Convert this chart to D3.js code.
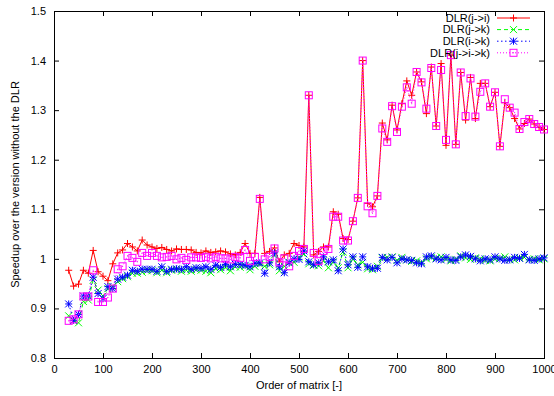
<!DOCTYPE html>
<html>
<head>
<meta charset="utf-8">
<script src="https://cdn.jsdelivr.net/npm/d3@7"></script>
<style>
  html, body { margin: 0; padding: 0; background: #fff; }
  svg { display: block; font-family: "Liberation Sans", Arial, sans-serif; }
</style>
</head>
<body>
<svg id="chart" width="554" height="396"></svg>
<script>
// ---------------- DATA ----------------
const matrixOrder = [30,40,50,60,70,80,90,100,110,120,130,140,150,160,170,180,190,200,210,220,
  230,240,250,260,270,280,290,300,310,320,330,340,350,360,370,380,390,400,410,420,
  430,440,450,460,470,480,490,500,510,520,530,540,550,560,570,580,590,600,610,620,
  630,640,650,660,670,680,690,700,710,720,730,740,750,760,770,780,790,800,810,820,
  830,840,850,860,870,880,890,900,910,920,930,940,950,960,970,980,990,1000];

const dlrJI = [0.977,0.945,0.949,0.977,0.971,1.017,0.974,0.965,0.956,0.990,
  1.012,1.018,1.031,1.024,1.016,1.038,1.028,1.024,1.021,1.023,
  1.019,1.016,1.020,1.019,1.019,1.018,1.013,1.012,1.016,1.013,
  1.014,1.016,1.014,1.010,1.008,1.013,1.031,1.011,1.011,1.124,
  1.011,1.015,1.022,0.994,1.008,1.011,1.031,1.027,1.024,1.330,
  1.008,1.015,1.024,1.024,1.095,1.090,1.041,1.039,1.076,1.123,
  1.400,1.112,1.105,1.127,1.274,1.240,1.310,1.260,1.313,1.359,
  1.330,1.377,1.357,1.293,1.387,1.268,1.394,1.229,1.411,1.231,
  1.376,1.280,1.366,1.283,1.354,1.354,1.307,1.336,1.227,1.315,
  1.305,1.283,1.262,1.273,1.282,1.272,1.265,1.261];

const dlrJK = [0.885,0.875,0.871,0.914,0.917,0.957,0.937,0.925,0.940,0.944,
  0.954,0.960,0.964,0.971,0.971,0.973,0.976,0.976,0.972,0.977,
  0.972,0.977,0.978,0.975,0.977,0.975,0.978,0.977,0.975,0.972,
  0.980,0.978,0.982,0.976,0.984,0.983,0.985,0.978,0.985,0.989,
  0.985,0.988,1.008,0.976,0.985,0.993,0.993,1.003,1.010,0.990,
  0.987,0.986,0.996,0.982,0.994,0.982,1.014,0.982,1.000,0.988,
  0.993,0.980,0.978,0.985,1.002,1.003,1.004,0.997,1.003,0.998,
  0.995,0.996,0.993,1.000,1.003,1.002,1.004,0.999,0.996,0.999,
  1.006,1.002,0.999,1.002,1.000,0.997,0.996,1.000,1.001,1.004,
  0.999,0.998,1.002,1.003,0.999,1.000,0.998,1.000];

const dlrIK = [0.909,0.876,0.888,0.925,0.925,0.963,0.930,0.920,0.944,0.940,
  0.959,0.963,0.967,0.977,0.975,0.979,0.979,0.979,0.975,0.984,
  0.975,0.979,0.980,0.979,0.984,0.979,0.982,0.981,0.984,0.979,
  0.987,0.983,0.989,0.984,0.989,0.989,0.987,0.984,0.991,0.992,
  0.971,0.992,1.012,0.984,0.972,0.992,1.000,0.999,1.016,0.994,
  0.988,0.992,1.004,0.994,0.998,0.976,1.020,0.988,1.004,0.983,
  1.004,0.984,0.981,0.981,1.003,0.998,1.003,0.992,1.000,0.998,
  0.997,0.992,0.990,1.004,1.006,1.000,0.998,1.003,0.998,0.997,
  1.004,1.008,1.005,1.000,0.996,1.000,0.998,1.004,1.000,0.997,
  0.998,1.003,1.001,1.009,0.998,0.997,1.000,1.002];

const dlrJIK = [0.875,0.878,0.888,0.924,0.924,0.977,0.913,0.913,0.922,0.940,
  0.979,0.985,1.006,1.002,0.994,1.012,1.006,1.012,1.006,1.003,
  1.004,1.006,0.999,1.002,0.998,1.003,1.003,1.002,1.004,1.001,
  1.004,1.001,1.001,0.999,1.004,1.002,1.018,0.996,1.004,1.121,
  0.999,1.004,1.021,0.993,1.001,0.985,1.006,1.016,1.020,1.330,
  1.012,0.996,1.016,1.020,1.085,1.085,1.037,1.037,1.076,1.123,
  1.400,1.106,1.092,1.127,1.263,1.236,1.308,1.256,1.307,1.346,
  1.313,1.377,1.356,1.303,1.385,1.268,1.381,1.240,1.411,1.231,
  1.376,1.288,1.364,1.287,1.337,1.354,1.307,1.336,1.227,1.322,
  1.305,1.295,1.262,1.276,1.282,1.272,1.266,1.261];

const seriesNames = ["DLR(j->i)", "DLR(j->k)", "DLR(i->k)", "DLR(j->i->k)"];
const xTicks = [0,100,200,300,400,500,600,700,800,900,1000];
const yTicks = [0.8,0.9,1.0,1.1,1.2,1.3,1.4,1.5];
const yTickLabels = ["0.8","0.9","1","1.1","1.2","1.3","1.4","1.5"];

// ---------------- STYLE ----------------
const styles = [
  { color: "#ff0000", dash: null,  marker: "plus" },
  { color: "#00ff00", dash: "4,3", marker: "cross" },
  { color: "#0000ff", dash: "1.5,2.5", marker: "star" },
  { color: "#ff00ff", dash: "1,2", marker: "square" }
];
const allSeries = [dlrJI, dlrJK, dlrIK, dlrJIK];

const W = 554, H = 396;
const m = { left: 54, right: 10, top: 11, bottom: 38 };
const pw = W - m.left - m.right, ph = H - m.top - m.bottom;

const svg = d3.select("#chart");
const x = d3.scaleLinear().domain([0, 1000]).range([m.left, m.left + pw]);
const y = d3.scaleLinear().domain([0.8, 1.5]).range([m.top + ph, m.top]);

// axes (inward ticks, mirrored)
const fs = "11px";
const gB = svg.append("g").attr("transform", `translate(0,${m.top + ph})`)
  .call(d3.axisBottom(x).tickValues(xTicks).tickSize(-5).tickPadding(7).tickFormat(d3.format("d")));
const gT = svg.append("g").attr("transform", `translate(0,${m.top})`)
  .call(d3.axisTop(x).tickValues(xTicks).tickSize(-5).tickFormat(""));
const gL = svg.append("g").attr("transform", `translate(${m.left},0)`)
  .call(d3.axisLeft(y).tickValues(yTicks).tickSize(-5).tickPadding(8)
    .tickFormat((d, i) => yTickLabels[i]));
const gR = svg.append("g").attr("transform", `translate(${m.left + pw},0)`)
  .call(d3.axisRight(y).tickValues(yTicks).tickSize(-5).tickFormat(""));
[gB, gT, gL, gR].forEach(g => {
  g.select(".domain").remove();
  g.selectAll(".tick line").attr("stroke", "#000").attr("stroke-width", 1);
  g.selectAll(".tick text").attr("fill", "#000").style("font-size", fs)
    .style("font-family", '"Liberation Sans", Arial, sans-serif');
});

// frame
svg.append("rect").attr("x", m.left + 0.5).attr("y", m.top + 0.5)
  .attr("width", pw).attr("height", ph)
  .attr("fill", "none").attr("stroke", "#000").attr("stroke-width", 1);

// axis titles
svg.append("text").attr("x", m.left + pw / 2).attr("y", 389)
  .attr("text-anchor", "middle").style("font-size", fs).text("Order of matrix [-]");
svg.append("text")
  .attr("transform", `translate(19,${m.top + ph / 2}) rotate(-90)`)
  .attr("text-anchor", "middle").style("font-size", fs)
  .text("Speedup over the version without the DLR");

// markers
function drawMarker(g, type, cx, cy, color) {
  const s = 3.5;
  if (type === "plus") {
    g.append("path").attr("d", `M${cx - s},${cy}H${cx + s}M${cx},${cy - s}V${cy + s}`)
      .attr("stroke", color).attr("stroke-width", 1).attr("fill", "none");
  } else if (type === "cross") {
    g.append("path").attr("d", `M${cx - s},${cy - s}L${cx + s},${cy + s}M${cx - s},${cy + s}L${cx + s},${cy - s}`)
      .attr("stroke", color).attr("stroke-width", 1).attr("fill", "none");
  } else if (type === "star") {
    g.append("path").attr("d", `M${cx - s},${cy - s}L${cx + s},${cy + s}M${cx - s},${cy + s}L${cx + s},${cy - s}M${cx - s},${cy}H${cx + s}M${cx},${cy - s}V${cy + s}`)
      .attr("stroke", color).attr("stroke-width", 1).attr("fill", "none");
  } else if (type === "square") {
    g.append("rect").attr("x", cx - s).attr("y", cy - s).attr("width", 2 * s).attr("height", 2 * s)
      .attr("stroke", color).attr("stroke-width", 1).attr("fill", "none");
    g.append("rect").attr("x", cx - 0.5).attr("y", cy - 0.5).attr("width", 1).attr("height", 1)
      .attr("fill", color);
  }
}

const line = d3.line().x(d => x(d[0])).y(d => y(d[1]));
const plotG = svg.append("g");
allSeries.forEach((vals, si) => {
  const st = styles[si];
  const pts = matrixOrder.map((v, i) => [v, vals[i]]);
  const g = plotG.append("g");
  g.append("path").datum(pts).attr("d", line)
    .attr("fill", "none").attr("stroke", st.color).attr("stroke-width", 1)
    .attr("stroke-dasharray", st.dash);
  pts.forEach(p => drawMarker(g, st.marker, x(p[0]), y(p[1]), st.color));
});

// legend
const lg = svg.append("g");
seriesNames.forEach((name, i) => {
  const st = styles[i];
  const ly = 18 + i * 11.6;
  lg.append("text").attr("x", 490).attr("y", ly).attr("dy", "0.35em")
    .attr("text-anchor", "end").style("font-size", fs).text(name);
  lg.append("line").attr("x1", 497).attr("x2", 530).attr("y1", ly).attr("y2", ly)
    .attr("stroke", st.color).attr("stroke-width", 1).attr("stroke-dasharray", st.dash);
  drawMarker(lg, st.marker, 513.5, ly, st.color);
});
</script>
</body>
</html>
